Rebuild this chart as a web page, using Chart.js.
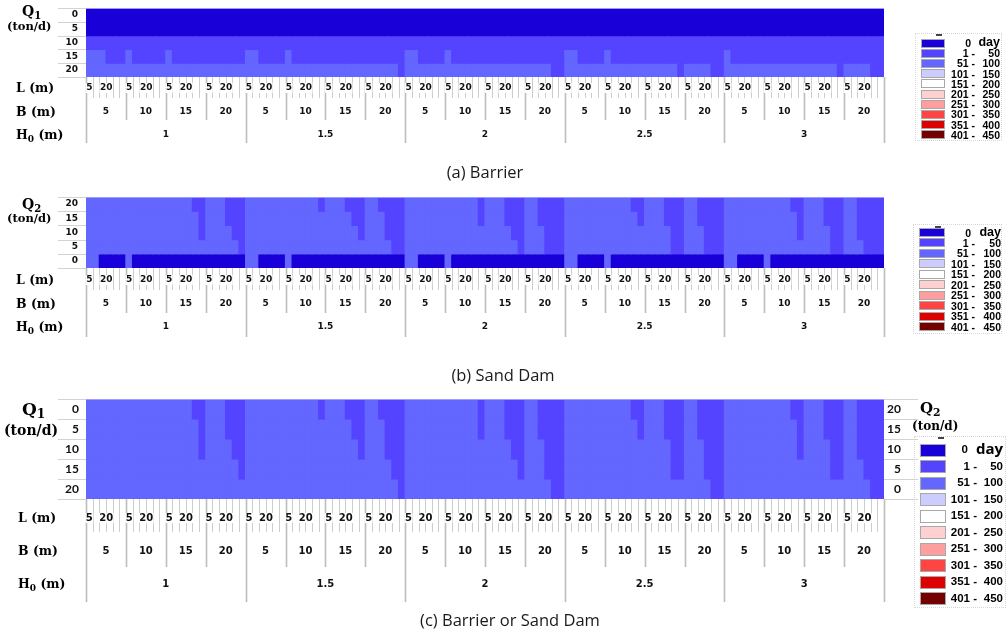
<!DOCTYPE html>
<html><head><meta charset="utf-8">
<script src="https://cdn.jsdelivr.net/npm/chart.js@4/dist/chart.umd.min.js"></script>
<style>
html,body{margin:0;padding:0;background:#fff;}
body{width:1007px;height:636px;position:relative;overflow:hidden;}
canvas{position:absolute;left:0;}
.t{position:absolute;font-family:"DejaVu Serif",serif;font-weight:bold;color:#000;white-space:nowrap;line-height:1;transform:translateY(-50%);}
.t sub{font-size:72%;vertical-align:baseline;position:relative;top:0.28em;}
.cap{position:absolute;font-family:"Open Sans","Noto Sans",sans-serif;font-size:16px;color:#1a1a1a;transform:translate(-50%,-50%);white-space:nowrap;line-height:1;}
.lg{position:absolute;white-space:pre;line-height:1;color:#000;transform:translateY(-50%);font-family:"Liberation Sans",Arial,sans-serif;font-weight:bold;}
.sw{position:absolute;box-sizing:border-box;border:1px solid #a8a8a8;}
.box{position:absolute;border:1px dotted #d6d6d6;box-sizing:border-box;}
</style>
</head><body>
<canvas id="cA" width="1007" height="185" style="top:0px"></canvas>
<canvas id="cB" width="1007" height="200" style="top:185px"></canvas>
<canvas id="cC" width="1007" height="251" style="top:385px"></canvas>
<script>
// ---------------- data ----------------
const H0_LABELS = ["1", "1.5", "2", "2.5", "3"];
const B_LABELS = ["5", "10", "15", "20"];
const L_LABELS = ["5", "", "", "20", "", ""];
const Q1_LABELS = ["0", "5", "10", "15", "20"];
const Q2_LABELS = ["20", "15", "10", "5", "0"];
const LEGEND_LEFT = ["0", "1 -", "51 -", "101 -", "151 -", "201 -", "251 -", "301 -", "351 -", "401 -"];
const LEGEND_RIGHT = ["day", "50", "100", "150", "200", "250", "300", "350", "400", "450"];
const COLORS = ["#1a00d8", "#5544ff", "#6366ff", "#ccccff", "#ffffff", "#ffd0d0", "#ff9e9e", "#ff4444", "#dd0000", "#740000"];

// class index per cell (0 = "0 day", 1 = "1-50", 2 = "51-100"); 20 groups (H0 x B) of 6 L-columns
const BARRIER = [ // rows Q1 = 0,5,10,15,20
 "000000 000000 000000 000000  000000 000000 000000 000000  000000 000000 000000 000000  000000 000000 000000 000000  000000 000000 000000 000000",
 "000000 000000 000000 000000  000000 000000 000000 000000  000000 000000 000000 000000  000000 000000 000000 000000  000000 000000 000000 000000",
 "111111 111111 111111 111111  111111 111111 111111 111111  111111 111111 111111 111111  111111 111111 111111 111111  111111 111111 111111 111111",
 "222111 211111 211111 111111  221111 211111 111111 111111  221111 211111 111111 111111  221111 211111 111111 111111  211111 111111 111111 111111",
 "222222 222222 222222 222222  222222 222222 222222 222221  222222 222222 222222 222211  222222 222222 222221 222211  222222 222222 222221 222211"
];
const SAND_DAM = [ // rows Q2 = 20,15,10,5,0
 "222222 222222 222211 222111  222222 222221 222111 221111  222222 222221 222111 221111  222222 222211 222111 221111  222222 222211 222111 221111",
 "222222 222222 222221 222111  222222 222222 222211 222111  222222 222221 222111 221111  222222 222221 222111 221111  222222 222221 222111 221111",
 "222222 222222 222221 222211  222222 222222 222221 222111  222222 222222 222211 222111  222222 222222 222211 222111  222222 222221 222211 221111",
 "222222 222222 222222 222221  222222 222222 222222 222211  222222 222222 222221 222111  222222 222222 222211 222111  222222 222222 222211 222111",
 "220000 200000 000000 000000  220000 200000 000000 000000  220000 200000 000000 000000  220000 200000 000000 000000  220000 200000 000000 000000"
];
const COMBINED = [ // rows Q1 = 0,5,10,15,20  (Q2 = 20,15,10,5,0)
 "222222 222222 222211 222111  222222 222221 222111 221111  222222 222221 222111 221111  222222 222211 222111 221111  222222 222211 222111 221111",
 "222222 222222 222221 222111  222222 222222 222211 222111  222222 222221 222111 221111  222222 222221 222111 221111  222222 222221 222111 221111",
 "222222 222222 222221 222211  222222 222222 222221 222111  222222 222222 222211 222111  222222 222222 222211 222111  222222 222221 222211 221111",
 "222222 222222 222222 222221  222222 222222 222222 222211  222222 222222 222221 222111  222222 222222 222211 222111  222222 222222 222211 222111",
 "222222 222222 222222 222222  222222 222222 222222 222221  222222 222222 222222 222211  222222 222222 222222 222211  222222 222222 222222 222211"
];

// category labels for the x axis (H0 | B | L position)
const X_LABELS = [];
H0_LABELS.forEach(h => B_LABELS.forEach(b => L_LABELS.forEach((l, k) => X_LABELS.push(h + "|" + b + "|" + k))));

// ---------------- multi-level axis plugin ----------------
const multiLevelAxis = {
  id: 'multiLevelAxis',
  afterDraw(chart, args, o) {
    const ctx = chart.ctx, a = chart.chartArea;
    const xs = chart.scales.x, ys = chart.scales.y;
    const n = X_LABELS.length, per = L_LABELS.length, perH = per * B_LABELS.length;
    const edge = i => i <= 0 ? a.left : i >= n ? a.right : (xs.getPixelForValue(i - 1) + xs.getPixelForValue(i)) / 2;
    ctx.save();
    // row separators
    ctx.strokeStyle = '#d2d2d2'; ctx.lineWidth = 1;
    for (let k = 0; k <= ys.max; k++) {
      const yy = Math.round(ys.getPixelForValue(k)) + 0.5;
      ctx.beginPath(); ctx.moveTo(o.sepLeft, yy); ctx.lineTo(a.left, yy);
      if (o.sepRight) { ctx.moveTo(a.right, yy); ctx.lineTo(o.sepRight, yy); }
      ctx.stroke();
    }
    // top highlight
    ctx.strokeStyle = '#9c9cff'; ctx.beginPath(); ctx.moveTo(a.left, Math.round(a.top) + 0.5); ctx.lineTo(a.right, Math.round(a.top) + 0.5); ctx.stroke();
    // ticks
    for (let i = 0; i <= n; i++) {
      const xx = Math.round(edge(i)) + 0.5;
      let bottom = o.lBottom, col = '#cdcdcd', w = 1;
      if (i % perH === 0) { bottom = o.hBottom; col = '#bcbcbc'; w = 1.6; }
      else if (i % per === 0) { bottom = o.bBottom; col = '#bcbcbc'; w = 1.6; }
      ctx.strokeStyle = col; ctx.lineWidth = w;
      ctx.beginPath(); ctx.moveTo(xx, a.bottom); ctx.lineTo(xx, bottom); ctx.stroke();
    }
    ctx.font = o.font; ctx.textAlign = 'center'; ctx.textBaseline = 'middle';
    for (let i = 0; i < n; i++) {
      const k = i % per, t = L_LABELS[k];
      if (!t) continue;
      const cx = k === 0 ? xs.getPixelForValue(i) : xs.getPixelForValue(i - 0.45);
      const w = ctx.measureText(t).width;
      ctx.fillStyle = '#fff'; ctx.fillRect(cx - w / 2 - 0.5, o.lY - 5, w + 1, 10);
      ctx.fillStyle = '#111'; ctx.fillText(t, cx, o.lY);
    }
    ctx.fillStyle = '#111';
    for (let g = 0; g < n / per; g++) {
      ctx.fillText(B_LABELS[g % B_LABELS.length], (edge(g * per) + edge((g + 1) * per)) / 2, o.bY);
    }
    for (let h = 0; h < n / perH; h++) {
      ctx.fillText(H0_LABELS[h], (edge(h * perH) + edge((h + 1) * perH)) / 2, o.hY);
    }
    ctx.restore();
  }
};

function rowAxis(labels, pos, width, font, pad, align) {
  return {
    type: 'linear', position: pos, min: 0, max: labels.length, reverse: true, stacked: pos === 'left',
    afterBuildTicks: s => { s.ticks = labels.map((_, i) => ({ value: i + 0.5 })); },
    afterFit: s => { s.width = width; s.paddingTop = 0; s.paddingBottom = 0; },
    grid: { display: false, drawTicks: false }, border: { display: false },
    ticks: { callback: (v, i) => labels[i], color: '#111', font: font, padding: pad, autoSkip: false, crossAlign: align || 'near' }
  };
}

function heatmap(id, matrix, rowLabels, cfg) {
  const cells = matrix.map(r => r.replace(/\s+/g, '').split('').map(Number));
  const datasets = cells.map((row, r) => ({
    label: rowLabels[r],
    data: row.map(() => 1),
    backgroundColor: row.map(c => COLORS[c]),
    borderWidth: 0, inflateAmount: 0.6,
    barPercentage: 1, categoryPercentage: 1
  }));
  const scales = {
    x: { type: 'category', labels: X_LABELS, stacked: true, display: false, offset: true },
    y: rowAxis(rowLabels, 'left', 28, cfg.yFont, cfg.yPad)
  };
  if (cfg.rightLabels) scales.y2 = rowAxis(cfg.rightLabels, 'right', 17, cfg.yFont, 3, 'far');
  return new Chart(document.getElementById(id), {
    type: 'bar',
    data: { labels: X_LABELS, datasets },
    options: {
      responsive: false, animation: false, devicePixelRatio: 1,
      layout: { padding: cfg.padding },
      plugins: { legend: { display: false }, tooltip: { enabled: false }, multiLevelAxis: cfg.axis },
      scales
    },
    plugins: [multiLevelAxis]
  });
}

heatmap('cA', BARRIER, Q1_LABELS, {
  padding: { left: 58, right: 123, top: 8, bottom: 108 },
  yFont: { family: 'DejaVu Sans', weight: 'bold', size: 9 }, yPad: 8,
  axis: { sepLeft: 58, lY: 88, bY: 112, hY: 135, lBottom: 98, bBottom: 120, hBottom: 143, font: 'bold 9px "DejaVu Sans"' }
});
heatmap('cB', SAND_DAM, Q2_LABELS, {
  padding: { left: 58, right: 123, top: 12, bottom: 117 },
  yFont: { family: 'DejaVu Sans', weight: 'bold', size: 9 }, yPad: 8,
  axis: { sepLeft: 58, lY: 95, bY: 119, hY: 142, lBottom: 105, bBottom: 128, hBottom: 152, font: 'bold 9px "DejaVu Sans"' }
});
heatmap('cC', COMBINED, Q1_LABELS, {
  padding: { left: 58, right: 106, top: 14, bottom: 137 },
  yFont: { family: 'Lato', weight: 'bold', size: 12 }, yPad: 7,
  rightLabels: Q2_LABELS,
  axis: { sepLeft: 58, sepRight: 918, lY: 133, bY: 166, hY: 199, lBottom: 147, bBottom: 182, hBottom: 217, font: 'bold 10px "DejaVu Sans"' }
});

// ---------------- HTML text ----------------
function txt(html, left, cy, size, cls) {
  const d = document.createElement('div');
  d.className = cls || 't';
  d.innerHTML = html;
  d.style.left = left + 'px'; d.style.top = cy + 'px'; d.style.fontSize = size + 'px';
  document.body.appendChild(d);
  return d;
}
// panel a
txt('Q<sub>1</sub>', 22, 11, 14);
txt('(ton/d)', 7, 27, 11.5);
txt('L (m)', 16, 88, 12.5);
txt('B (m)', 16, 112, 12.5);
txt('H<sub>0</sub> (m)', 16, 135, 12.5);
txt('(a) Barrier', 485, 172, 16.5, 'cap');
// panel b
txt('Q<sub>2</sub>', 22, 204, 14);
txt('(ton/d)', 7, 219, 11.5);
txt('L (m)', 16, 280, 12.5);
txt('B (m)', 16, 304, 12.5);
txt('H<sub>0</sub> (m)', 16, 327, 12.5);
txt('(b) Sand Dam', 503, 375, 16.5, 'cap');
// panel c
txt('Q<sub>1</sub>', 22, 409, 17);
txt('(ton/d)', 4, 430, 14);
txt('Q<sub>2</sub>', 920, 408, 15);
txt('(ton/d)', 912, 426, 12);
txt('L (m)', 18, 518, 12.5);
txt('B (m)', 18, 551, 12.5);
txt('H<sub>0</sub> (m)', 18, 584, 12.5);
txt('(c) Barrier or Sand Dam', 510, 620, 16.5, 'cap');

// ---------------- legends ----------------
function legend(c) {
  const box = document.createElement('div');
  box.className = 'box';
  Object.assign(box.style, { left: c.box[0] + 'px', top: c.box[1] + 'px', width: c.box[2] + 'px', height: c.box[3] + 'px' });
  document.body.appendChild(box);
  const dash = document.createElement('div');
  Object.assign(dash.style, { position: 'absolute', left: c.dash[0] + 'px', top: c.dash[1] + 'px', width: '6px', height: '1.5px', background: '#444' });
  document.body.appendChild(dash);
  LEGEND_LEFT.forEach((t, i) => {
    const cy = c.y0 + c.step * i;
    const s = document.createElement('div');
    s.className = 'sw';
    Object.assign(s.style, { left: c.swL + 'px', top: (cy - c.swH / 2) + 'px', width: c.swW + 'px', height: c.swH + 'px', background: COLORS[i] });
    document.body.appendChild(s);
    const a = document.createElement('div');
    a.className = 'lg'; a.textContent = t;
    Object.assign(a.style, { right: (1007 - (i === 0 ? c.zeroR : c.hyR)) + 'px', top: cy + 'px', fontSize: c.fs + 'px' });
    document.body.appendChild(a);
    const b = document.createElement('div');
    b.className = 'lg'; b.textContent = LEGEND_RIGHT[i];
    Object.assign(b.style, { right: (1007 - c.txR) + 'px', top: (cy + (i === 0 ? c.dayDy : 0)) + 'px', fontSize: (i === 0 ? c.dayFs : c.fs) + 'px' });
    if (i === 0 && c.dayFam) { b.style.fontFamily = c.dayFam; }
    document.body.appendChild(b);
  });
}
legend({ box: [915, 33, 87, 108], dash: [936, 34], y0: 43, step: 10.2, swL: 921, swW: 24, swH: 9, hyR: 975, zeroR: 971, txR: 1000, fs: 10.5, dayFs: 12.5, dayDy: -1 });
legend({ box: [913, 224, 89, 110], dash: [935, 226], y0: 232.5, step: 10.45, swL: 919, swW: 26, swH: 9, hyR: 975, zeroR: 971, txR: 1001, fs: 10.5, dayFs: 12.5, dayDy: -1 });
legend({ box: [914, 436, 92, 172], dash: [938, 437], y0: 450, step: 16.55, swL: 920, swW: 26, swH: 13, hyR: 977, zeroR: 968, txR: 1003, fs: 11.5, dayFs: 15, dayDy: -2, dayFam: '"Open Sans", sans-serif' });
</script>
</body></html>
